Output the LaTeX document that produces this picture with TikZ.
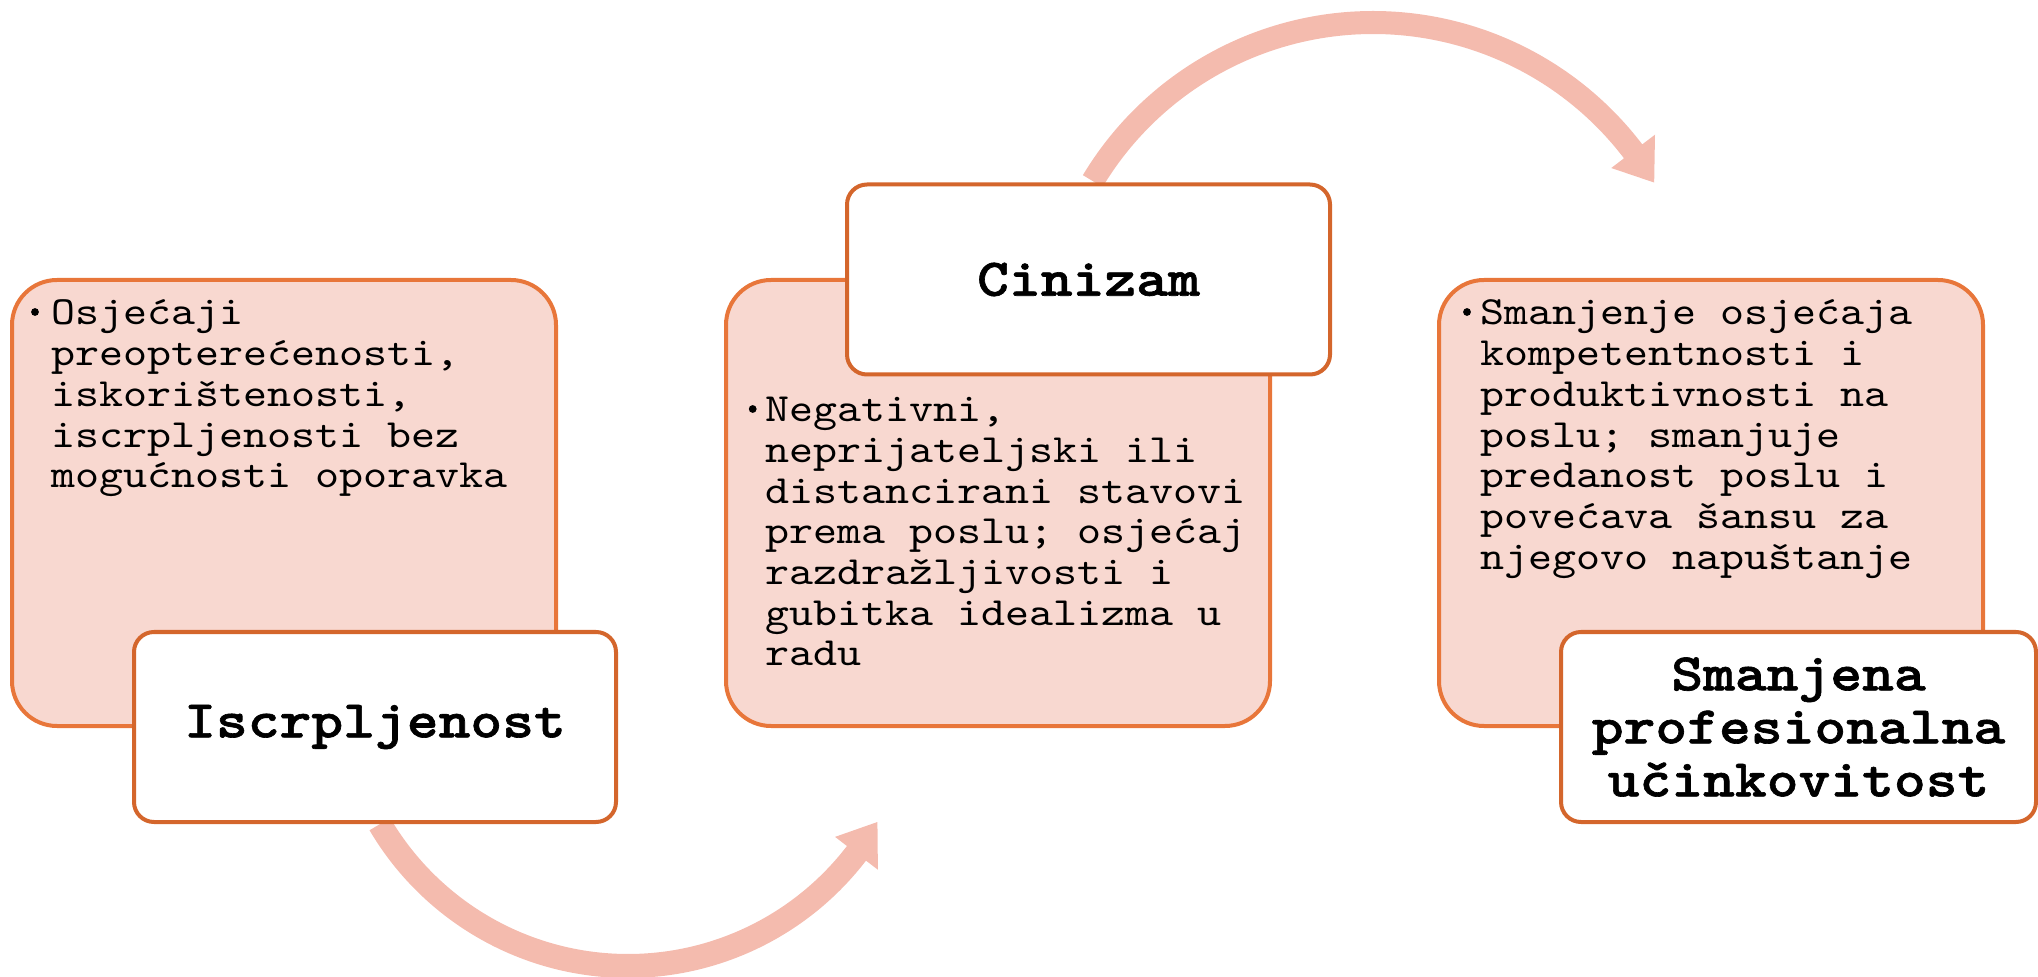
\documentclass[tikz,border=0pt]{standalone}
\usepackage{fontspec}
\usetikzlibrary{calc}
\newfontfamily\cour{lmmono10-regular.otf}[FakeStretch=1.143, BoldFont=lmmonolt10-bold.otf, BoldFeatures={FakeStretch=1.143, FakeBold=1.2}]
\definecolor{pinkfill}{HTML}{F8D8D0}
\definecolor{pinkline}{HTML}{E8763A}
\definecolor{whiteline}{HTML}{D4662C}
\definecolor{arrowc}{HTML}{F4BBAE}
\begin{document}
\begin{tikzpicture}[x=0.5pt,y=0.5pt,
  pinkbox/.style={draw=pinkline, fill=pinkfill, line width=2pt, rounded corners=22.5pt, minimum width=272pt, minimum height=223pt, inner sep=0pt},
  titlebox/.style={draw=whiteline, fill=white, line width=2pt, rounded corners=10pt, minimum height=95pt, inner sep=0pt, align=center, font=\cour\bfseries\fontsize{26.5}{26.5}\selectfont},
  bodytext/.style={anchor=base west, inner sep=0pt, font=\cour\fontsize{20}{20.35}\selectfont},
  bulletdot/.style={circle, fill=black, inner sep=0pt, minimum size=3.9pt},
  arrowfill/.style={fill=arrowc, draw=none}
]
\useasboundingbox (0,0) rectangle (2038,-977);

% curved arrows (behind boxes)
\coordinate (topc) at (1373,-349.5);
\coordinate (botc) at (628,-678);
\fill[arrowfill] ($(topc)+(149:338.5)$) arc[start angle=149, end angle=37.3, radius=338.5]
  -- ($(topc)+(37.3:354.5)$) -- ($(topc)+(30.7:327)$) -- ($(topc)+(37.3:299.5)$)
  -- ($(topc)+(37.3:315.5)$) arc[start angle=37.3, end angle=149, radius=315.5] -- cycle;
\fill[arrowfill] ($(botc)+(210.5:300)$) arc[start angle=210.5, end angle=322.5, radius=300]
  -- ($(botc)+(322.5:315)$) -- ($(botc)+(330:288)$) -- ($(botc)+(322.5:261)$)
  -- ($(botc)+(322.5:276)$) arc[start angle=322.5, end angle=210.5, radius=276] -- cycle;

% pink boxes
\node[pinkbox] (p1) at (284,-503) {};
\node[pinkbox] (p2) at (998,-503) {};
\node[pinkbox] (p3) at (1711,-503) {};

% bullets
\node[bulletdot] (d1) at (35,-312) {};
\node[bulletdot] (d2) at (752.7,-409) {};
\node[bulletdot] (d3) at (1467,-312) {};

% body texts
\node[bodytext] (b1) at (51,-325) {\parbox[t]{260pt}{\raggedright Osjećaji\\preopterećenosti,\\iskorištenosti,\\iscrpljenosti bez\\mogućnosti oporavka}};
\node[bodytext] (b2) at (765,-421.7) {\parbox[t]{260pt}{\raggedright Negativni,\\neprijateljski ili\\distancirani stavovi\\prema poslu; osjećaj\\razdražljivosti i\\gubitka idealizma u\\radu}};
\node[bodytext] (b3) at (1480,-325) {\parbox[t]{260pt}{\raggedright Smanjenje osjećaja\\kompetentnosti i\\produktivnosti na\\poslu; smanjuje\\predanost poslu i\\povećava šansu za\\njegovo napuštanje}};

% title boxes
\node[titlebox, minimum width=241pt] (t1) at (375,-727) {Iscrpljenost};
\node[titlebox, minimum width=241.5pt] (t2) at (1088.5,-279.5) {Cinizam};
\node[titlebox, minimum width=237.5pt] (t3) at (1798.5,-727) {Smanjena\\profesionalna\\učinkovitost};
\end{tikzpicture}
\end{document}
